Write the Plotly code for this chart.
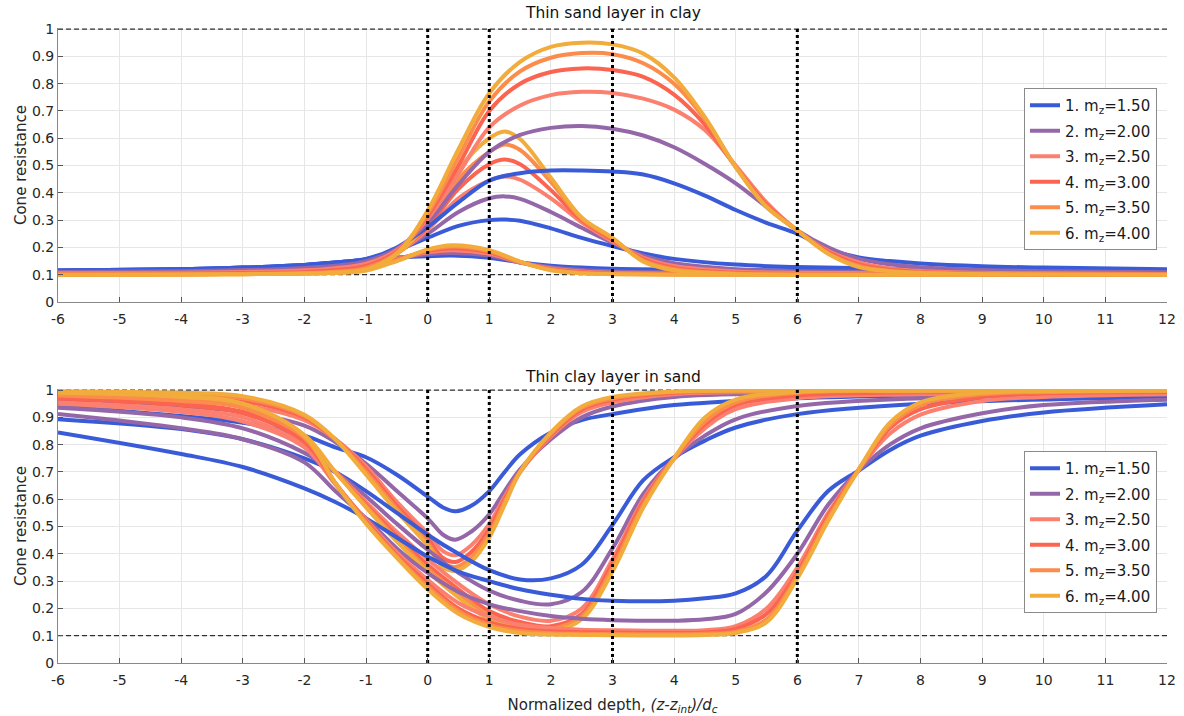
import plotly.graph_objects as go

mz_labels = ["1.50", "2.00", "2.50", "3.00", "3.50", "4.00"]
colors = ["#3a5bd8", "#9467a8", "#fb8070", "#fb6450", "#fb8c4c", "#f2ac3c"]

# ---- Top panel: thin sand layer in clay ----
top_h1_x = [-6, -4, -3, -2, -1.5, -1, -0.5, 0, 0.4, 1, 1.5, 2, 2.5, 3, 4, 6, 8, 12]
top_h1 = [
    [0.115, 0.12, 0.126, 0.136, 0.145, 0.155, 0.163, 0.168, 0.17, 0.162, 0.145, 0.133, 0.126, 0.122, 0.119, 0.116, 0.115, 0.114],
    [0.11, 0.113, 0.117, 0.125, 0.132, 0.143, 0.16, 0.175, 0.18, 0.17, 0.145, 0.127, 0.117, 0.112, 0.109, 0.107, 0.106, 0.106],
    [0.105, 0.107, 0.11, 0.116, 0.122, 0.134, 0.158, 0.182, 0.19, 0.177, 0.145, 0.123, 0.112, 0.107, 0.104, 0.103, 0.103, 0.102],
    [0.103, 0.104, 0.106, 0.11, 0.115, 0.126, 0.155, 0.187, 0.197, 0.182, 0.146, 0.12, 0.109, 0.104, 0.102, 0.101, 0.101, 0.101],
    [0.101, 0.102, 0.103, 0.106, 0.11, 0.12, 0.152, 0.19, 0.203, 0.186, 0.147, 0.118, 0.106, 0.103, 0.101, 0.1, 0.1, 0.1],
    [0.1, 0.101, 0.102, 0.104, 0.107, 0.115, 0.15, 0.193, 0.208, 0.19, 0.148, 0.116, 0.105, 0.102, 0.1, 0.1, 0.1, 0.1],
]
top_h3_x = [-6, -4, -3, -2, -1.5, -1, -0.5, 0, 0.5, 1, 1.25, 1.5, 2, 2.5, 3, 3.5, 4, 5, 6, 8, 12]
top_h3 = [
    [0.115, 0.12, 0.126, 0.136, 0.145, 0.157, 0.19, 0.235, 0.279, 0.30, 0.302, 0.298, 0.27, 0.235, 0.205, 0.178, 0.158, 0.137, 0.128, 0.12, 0.116],
    [0.11, 0.113, 0.117, 0.125, 0.133, 0.148, 0.185, 0.25, 0.33, 0.38, 0.387, 0.378, 0.33, 0.272, 0.217, 0.17, 0.142, 0.12, 0.113, 0.109, 0.107],
    [0.105, 0.107, 0.11, 0.116, 0.123, 0.138, 0.18, 0.265, 0.38, 0.445, 0.46, 0.448, 0.38, 0.292, 0.222, 0.163, 0.132, 0.112, 0.107, 0.104, 0.103],
    [0.103, 0.104, 0.106, 0.11, 0.116, 0.13, 0.178, 0.275, 0.415, 0.505, 0.522, 0.505, 0.41, 0.3, 0.227, 0.157, 0.125, 0.107, 0.103, 0.101, 0.101],
    [0.101, 0.102, 0.103, 0.106, 0.11, 0.123, 0.176, 0.285, 0.45, 0.55, 0.577, 0.557, 0.44, 0.305, 0.232, 0.152, 0.12, 0.104, 0.101, 0.1, 0.1],
    [0.1, 0.101, 0.102, 0.104, 0.107, 0.117, 0.175, 0.295, 0.485, 0.60, 0.625, 0.597, 0.455, 0.31, 0.235, 0.148, 0.116, 0.103, 0.1, 0.1, 0.1],
]
top_h6_x = [-6, -4, -3, -2, -1.5, -1, -0.5, 0, 0.5, 1, 1.5, 2, 2.5, 3, 3.5, 4, 4.5, 5, 5.5, 6, 6.5, 7, 7.5, 8, 9, 10, 12]
top_h6 = [
    [0.115, 0.12, 0.126, 0.136, 0.145, 0.158, 0.2, 0.275, 0.365, 0.445, 0.472, 0.482, 0.482, 0.478, 0.467, 0.435, 0.39, 0.337, 0.29, 0.25, 0.195, 0.163, 0.15, 0.141, 0.131, 0.126, 0.12],
    [0.11, 0.113, 0.117, 0.125, 0.133, 0.15, 0.195, 0.29, 0.43, 0.55, 0.612, 0.638, 0.645, 0.635, 0.61, 0.567, 0.506, 0.435, 0.348, 0.262, 0.2, 0.158, 0.138, 0.127, 0.117, 0.113, 0.109],
    [0.105, 0.107, 0.11, 0.116, 0.124, 0.14, 0.19, 0.305, 0.47, 0.64, 0.72, 0.758, 0.77, 0.766, 0.745, 0.705, 0.63, 0.5, 0.365, 0.262, 0.188, 0.145, 0.123, 0.114, 0.107, 0.105, 0.103],
    [0.103, 0.104, 0.106, 0.11, 0.117, 0.132, 0.185, 0.315, 0.5, 0.70, 0.80, 0.843, 0.856, 0.85, 0.825, 0.76, 0.65, 0.495, 0.357, 0.262, 0.183, 0.138, 0.118, 0.11, 0.104, 0.102, 0.101],
    [0.101, 0.102, 0.103, 0.106, 0.111, 0.125, 0.18, 0.325, 0.53, 0.735, 0.845, 0.895, 0.912, 0.908, 0.875, 0.8, 0.67, 0.495, 0.35, 0.262, 0.178, 0.132, 0.114, 0.107, 0.102, 0.101, 0.1],
    [0.1, 0.101, 0.102, 0.104, 0.108, 0.119, 0.178, 0.335, 0.56, 0.765, 0.88, 0.935, 0.95, 0.944, 0.91, 0.823, 0.677, 0.494, 0.348, 0.262, 0.177, 0.128, 0.113, 0.107, 0.102, 0.101, 0.1],
]

# ---- Bottom panel: thin clay layer in sand ----
bot_h1_x = [-6, -4, -3, -2, -1.5, -1, -0.5, 0, 0.25, 0.45, 0.7, 1, 1.25, 1.5, 2, 2.5, 3, 4, 6, 8, 12]
bot_h1 = [
    [0.942, 0.905, 0.88, 0.833, 0.79, 0.754, 0.69, 0.61, 0.57, 0.556, 0.575, 0.63, 0.70, 0.765, 0.845, 0.89, 0.912, 0.945, 0.97, 0.98, 0.988],
    [0.96, 0.94, 0.92, 0.87, 0.81, 0.73, 0.63, 0.53, 0.47, 0.452, 0.48, 0.545, 0.63, 0.71, 0.82, 0.9, 0.94, 0.975, 0.988, 0.993, 0.996],
    [0.975, 0.96, 0.945, 0.89, 0.82, 0.72, 0.59, 0.475, 0.41, 0.395, 0.43, 0.51, 0.61, 0.70, 0.83, 0.92, 0.955, 0.985, 0.994, 0.997, 0.998],
    [0.985, 0.975, 0.96, 0.9, 0.82, 0.71, 0.575, 0.455, 0.385, 0.37, 0.405, 0.49, 0.60, 0.70, 0.835, 0.93, 0.965, 0.99, 0.996, 0.998, 0.999],
    [0.99, 0.982, 0.97, 0.905, 0.82, 0.70, 0.565, 0.44, 0.365, 0.352, 0.385, 0.475, 0.59, 0.70, 0.84, 0.935, 0.97, 0.993, 0.997, 0.999, 1.0],
    [0.996, 0.99, 0.978, 0.91, 0.82, 0.69, 0.555, 0.43, 0.35, 0.338, 0.37, 0.46, 0.58, 0.70, 0.845, 0.94, 0.975, 0.995, 0.998, 0.999, 1.0],
]
bot_h3_x = [-6, -4, -3, -2, -1.5, -1, -0.5, 0, 0.5, 1, 1.5, 2, 2.5, 3, 3.5, 4, 4.5, 5, 6, 8, 12]
bot_h3 = [
    [0.893, 0.857, 0.82, 0.75, 0.7, 0.63, 0.55, 0.47, 0.4, 0.34, 0.306, 0.31, 0.36, 0.506, 0.67, 0.754, 0.815, 0.863, 0.912, 0.95, 0.975],
    [0.935, 0.9, 0.86, 0.77, 0.7, 0.61, 0.51, 0.415, 0.33, 0.265, 0.228, 0.215, 0.26, 0.42, 0.62, 0.748, 0.833, 0.893, 0.942, 0.97, 0.985],
    [0.955, 0.93, 0.9, 0.8, 0.7, 0.59, 0.48, 0.38, 0.29, 0.215, 0.17, 0.155, 0.2, 0.38, 0.6, 0.75, 0.86, 0.93, 0.97, 0.985, 0.993],
    [0.97, 0.95, 0.92, 0.815, 0.7, 0.58, 0.465, 0.36, 0.27, 0.19, 0.15, 0.135, 0.18, 0.365, 0.59, 0.75, 0.875, 0.945, 0.98, 0.992, 0.996],
    [0.98, 0.965, 0.935, 0.825, 0.7, 0.575, 0.455, 0.345, 0.255, 0.175, 0.135, 0.125, 0.17, 0.35, 0.58, 0.75, 0.885, 0.955, 0.99, 0.996, 0.998],
    [0.99, 0.978, 0.95, 0.835, 0.7, 0.57, 0.445, 0.335, 0.24, 0.16, 0.125, 0.115, 0.16, 0.335, 0.57, 0.75, 0.9, 0.965, 0.993, 0.998, 1.0],
]
bot_h6_x = [-6, -4, -3, -2, -1.5, -1, -0.5, 0, 0.5, 1, 1.5, 2, 2.5, 3, 4, 4.5, 5, 5.5, 6, 6.5, 7, 7.5, 8, 9, 10, 12]
bot_h6 = [
    [0.845, 0.766, 0.718, 0.64, 0.59, 0.53, 0.46, 0.39, 0.335, 0.3, 0.27, 0.25, 0.235, 0.228, 0.228, 0.237, 0.255, 0.32, 0.485, 0.63, 0.706, 0.78, 0.833, 0.887, 0.918, 0.948],
    [0.912, 0.86, 0.82, 0.735, 0.63, 0.53, 0.42, 0.33, 0.26, 0.215, 0.19, 0.172, 0.162, 0.157, 0.155, 0.16, 0.18, 0.26, 0.4, 0.58, 0.706, 0.8, 0.86, 0.915, 0.945, 0.965],
    [0.95, 0.92, 0.885, 0.79, 0.655, 0.525, 0.405, 0.305, 0.22, 0.17, 0.14, 0.128, 0.122, 0.12, 0.118, 0.12, 0.135, 0.2, 0.35, 0.55, 0.71, 0.84, 0.91, 0.96, 0.975, 0.985],
    [0.97, 0.945, 0.915, 0.81, 0.66, 0.52, 0.395, 0.29, 0.2, 0.15, 0.125, 0.116, 0.113, 0.112, 0.11, 0.112, 0.125, 0.18, 0.33, 0.54, 0.71, 0.86, 0.93, 0.975, 0.988, 0.993],
    [0.98, 0.96, 0.935, 0.825, 0.66, 0.515, 0.39, 0.28, 0.19, 0.14, 0.117, 0.109, 0.107, 0.106, 0.105, 0.107, 0.115, 0.16, 0.32, 0.53, 0.71, 0.87, 0.945, 0.985, 0.993, 0.997],
    [0.99, 0.975, 0.95, 0.833, 0.66, 0.51, 0.385, 0.27, 0.18, 0.132, 0.11, 0.104, 0.103, 0.102, 0.101, 0.103, 0.11, 0.15, 0.31, 0.52, 0.71, 0.88, 0.955, 0.99, 0.996, 0.998],
]

interfaces = [0, 1, 3, 6]
q_levels = [0.1, 1.0]
x_ticks = list(range(-6, 13))
x_ticktext = [str(v) for v in x_ticks]
y_ticks = [0, 0.1, 0.2, 0.3, 0.4, 0.5, 0.6, 0.7, 0.8, 0.9, 1]
y_ticktext = ["0", "0.1", "0.2", "0.3", "0.4", "0.5", "0.6", "0.7", "0.8", "0.9", "1"]

FONT = "'DejaVu Sans', sans-serif"
TXT = "#262626"
fig = go.Figure()

panels = [
    ("x", "y", "legend", [(top_h1_x, top_h1), (top_h3_x, top_h3), (top_h6_x, top_h6)]),
    ("x2", "y2", "legend2", [(bot_h1_x, bot_h1), (bot_h3_x, bot_h3), (bot_h6_x, bot_h6)]),
]

for xa, ya, leg, groups in panels:
    for q in q_levels:
        fig.add_trace(go.Scatter(x=[-6, 12], y=[q, q], mode="lines", xaxis=xa, yaxis=ya,
                                 line=dict(color="black", width=1, dash="5px,3px"),
                                 showlegend=False, hoverinfo="skip"))
    for gi, (xs, ys) in enumerate(groups):
        for k in range(6):
            fig.add_trace(go.Scatter(
                x=xs, y=ys[k], mode="lines", xaxis=xa, yaxis=ya,
                line=dict(color=colors[k], width=4, shape="spline", smoothing=1.0),
                name=f"{k+1}. m<sub>z</sub>=" + mz_labels[k],
                legend=leg, legendgroup=f"{leg}{k}", showlegend=(gi == 0)))
    for xi in interfaces:
        fig.add_trace(go.Scatter(x=[xi, xi], y=[0, 1], mode="lines", xaxis=xa, yaxis=ya,
                                 line=dict(color="black", width=3, dash="3px,3px"),
                                 showlegend=False, hoverinfo="skip"))

axis_common = dict(range=[-6, 12], tickvals=x_ticks, ticktext=x_ticktext, ticks="inside", ticklen=5,
                   tickcolor="#555", showline=True, linecolor="#888", linewidth=1,
                   showgrid=True, gridcolor="#e6e6e6", gridwidth=1, zeroline=False,
                   automargin=False, ticklabelstandoff=4,
                   tickfont=dict(size=14, color=TXT, family=FONT))
yaxis_common = dict(range=[0, 1.004], tickvals=y_ticks, ticktext=y_ticktext,
                    ticks="inside", ticklen=5, tickcolor="#555", showline=True,
                    linecolor="#888", linewidth=1, showgrid=True, gridcolor="#e6e6e6",
                    zeroline=False, automargin=False, tickfont=dict(size=14, color=TXT, family=FONT))

legend_common = dict(bgcolor="white", bordercolor="#8a8a8a", borderwidth=1,
                     font=dict(size=15, color="#1a1a1a", family=FONT),
                     xanchor="right", yanchor="top", tracegroupgap=3, itemwidth=30)

W, HT = 1184, 716
L, R, T, B = 58, 17, 28, 53
PW = W - L - R
H = float(HT - T - B)
fig.update_layout(
    width=W, height=HT,
    margin=dict(l=L, r=R, t=T, b=B, autoexpand=False),
    paper_bgcolor="white", plot_bgcolor="white",
    font=dict(family=FONT, color=TXT),
    xaxis=dict(domain=[0, 1], anchor="y", **axis_common),
    yaxis=dict(domain=[1 - 274 / H, 1], anchor="x",
               title=dict(text="Cone resistance", font=dict(size=15, color=TXT), standoff=1),
               **yaxis_common),
    xaxis2=dict(domain=[0, 1], anchor="y2",
                title=dict(text="Normalized depth, <i>(z-z<sub>int</sub>)/d<sub>c</sub></i>",
                           font=dict(size=15, color=TXT), standoff=12),
                **axis_common),
    yaxis2=dict(domain=[0, 274 / H], anchor="x2",
                title=dict(text="Cone resistance", font=dict(size=15, color=TXT), standoff=1),
                **yaxis_common),
    legend=dict(x=(1157 - L) / PW, xref="paper", y=1 - 60 / H, **legend_common),
    legend2=dict(x=(1157 - L) / PW, xref="paper", y=1 - 423 / H, **legend_common),
    annotations=[
        dict(text="Thin sand layer in clay", x=0.5, xref="x domain", y=1, yref="y domain",
             yanchor="bottom", yshift=4, showarrow=False, font=dict(size=15.5, color="#111")),
        dict(text="Thin clay layer in sand", x=0.5, xref="x2 domain", y=1, yref="y2 domain",
             yanchor="bottom", yshift=1, showarrow=False, font=dict(size=15.5, color="#111")),
    ],
)

fig.write_html("out.html", config={"displayModeBar": False},
               post_script="document.body.style.margin='0';")
